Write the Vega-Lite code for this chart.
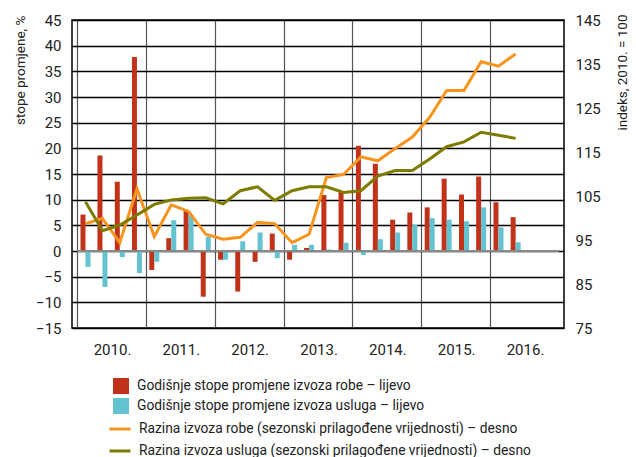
{
  "$schema": "https://vega.github.io/schema/vega-lite/v6.json",
  "autosize": "none",
  "width": 492,
  "height": 308,
  "padding": {"left": 72, "top": 20, "right": 72, "bottom": 129},
  "background": "white",
  "config": {
    "font": "Roboto",
    "view": {"stroke": "#000", "strokeWidth": 1.5},
    "axis": {"labelFont": "Roboto", "titleFont": "Roboto", "labelColor": "#222", "titleColor": "#222", "labelFontSize": 15, "titleFontSize": 13.5, "titleFontWeight": "normal", "ticks": false, "domain": false, "labelOverlap": false},
    "legend": {"labelFont": "Roboto", "labelFontSize": 13.8, "labelColor": "#222", "labelLimit": 0}
  },
  "data": {"values": [
    {"date": "2010-02-15", "gr": 7.1, "sr": -3.1, "gl": 98.7, "sl": 103.7},
    {"date": "2010-05-16", "gr": 18.6, "sr": -7.0, "gl": 99.9, "sl": 97.1},
    {"date": "2010-08-16", "gr": 13.5, "sr": -1.2, "gl": 94.4, "sl": 98.4},
    {"date": "2010-11-15", "gr": 37.8, "sr": -4.3, "gl": 106.6, "sl": 100.7},
    {"date": "2011-02-15", "gr": -3.7, "sr": -2.1, "gl": 95.8, "sl": 103.1},
    {"date": "2011-05-16", "gr": 2.5, "sr": 6.0, "gl": 103.0, "sl": 104.1},
    {"date": "2011-08-16", "gr": 8.0, "sr": 7.0, "gl": 101.5, "sl": 104.5},
    {"date": "2011-11-15", "gr": -8.9, "sr": 2.8, "gl": 96.3, "sl": 104.6},
    {"date": "2012-02-15", "gr": -1.7, "sr": -1.7, "gl": 95.2, "sl": 103.2},
    {"date": "2012-05-16", "gr": -7.9, "sr": 1.9, "gl": 95.6, "sl": 106.2},
    {"date": "2012-08-16", "gr": -2.1, "sr": 3.6, "gl": 99.0, "sl": 107.1},
    {"date": "2012-11-15", "gr": 3.4, "sr": -1.4, "gl": 98.7, "sl": 104.0},
    {"date": "2013-02-15", "gr": -1.7, "sr": 1.2, "gl": 94.4, "sl": 106.2},
    {"date": "2013-05-16", "gr": 0.6, "sr": 1.2, "gl": 96.3, "sl": 107.1},
    {"date": "2013-08-16", "gr": 10.9, "sr": 0.3, "gl": 109.2, "sl": 107.1},
    {"date": "2013-11-15", "gr": 11.5, "sr": 1.6, "gl": 109.9, "sl": 105.8},
    {"date": "2014-02-15", "gr": 20.5, "sr": -0.8, "gl": 113.9, "sl": 106.2},
    {"date": "2014-05-16", "gr": 17.0, "sr": 2.3, "gl": 113.0, "sl": 109.5},
    {"date": "2014-08-16", "gr": 6.1, "sr": 3.6, "gl": 115.8, "sl": 110.8},
    {"date": "2014-11-15", "gr": 7.5, "sr": 5.1, "gl": 118.4, "sl": 110.8},
    {"date": "2015-02-15", "gr": 8.5, "sr": 6.4, "gl": 122.9, "sl": 113.4},
    {"date": "2015-05-16", "gr": 14.1, "sr": 6.1, "gl": 129.0, "sl": 116.2},
    {"date": "2015-08-16", "gr": 11.0, "sr": 5.8, "gl": 129.0, "sl": 117.3},
    {"date": "2015-11-15", "gr": 14.5, "sr": 8.5, "gl": 135.5, "sl": 119.5},
    {"date": "2016-02-15", "gr": 9.5, "sr": 4.6, "gl": 134.5, "sl": 118.8},
    {"date": "2016-05-16", "gr": 6.6, "sr": 1.7, "gl": 137.3, "sl": 118.1}
  ]},
  "encoding": {
    "x": {
      "field": "date", "type": "temporal",
      "scale": {"type": "utc", "domain": [{"year": 2010, "month": 1, "date": 1, "utc": true}, {"year": 2017, "month": 1, "date": 1, "utc": true}]},
      "axis": {
        "title": null, "format": "%Y.", "grid": true, "gridColor": "#555", "gridWidth": 1.2,
        "values": [
          {"year": 2010, "month": 1, "date": 1, "utc": true},
          {"year": 2011, "month": 1, "date": 1, "utc": true},
          {"year": 2012, "month": 1, "date": 1, "utc": true},
          {"year": 2013, "month": 1, "date": 1, "utc": true},
          {"year": 2014, "month": 1, "date": 1, "utc": true},
          {"year": 2015, "month": 1, "date": 1, "utc": true},
          {"year": 2016, "month": 1, "date": 1, "utc": true}
        ],
        "labelOffset": 35, "labelAlign": "center", "labelPadding": 14, "labelFlush": false
      }
    }
  },
  "layer": [
    {
      "encoding": {
        "y": {"type": "quantitative", "scale": {"domain": [-15, 45], "nice": false},
          "axis": {"title": "stope promjene, %", "values": [-15, -10, -5, 0, 5, 10, 15, 20, 25, 30, 35, 40, 45], "grid": true, "gridColor": "#000", "gridWidth": 1.5, "labelPadding": 11, "titleAngle": 270, "titleAlign": "right", "titleBaseline": "middle", "titleX": -52, "titleY": -5}}
      },
      "layer": [
        {
          "data": {"values": [{"g": -10}, {"g": -5}, {"g": 5}, {"g": 10}, {"g": 15}, {"g": 20}, {"g": 25}, {"g": 30}, {"g": 35}, {"g": 40}]},
          "mark": {"type": "rule", "color": "#000", "strokeWidth": 1.5},
          "encoding": {
            "y": {"field": "g", "type": "quantitative"},
            "x": {"datum": {"year": 2010, "month": 1, "date": 1, "utc": true}, "type": "temporal"},
            "x2": {"datum": {"year": 2017, "month": 1, "date": 1, "utc": true}}
          }
        },
        {
          "mark": {"type": "bar", "width": 5, "xOffset": -2.5},
          "encoding": {
            "y": {"field": "gr"},
            "fill": {"datum": "Godišnje stope promjene izvoza robe – lijevo", "type": "nominal",
              "scale": {"domain": ["Godišnje stope promjene izvoza robe – lijevo", "Godišnje stope promjene izvoza usluga – lijevo"], "range": ["#c1321b", "#63c3d1"]},
              "legend": {"title": null, "orient": "none", "legendX": 41, "legendY": 358, "symbolType": "square", "symbolSize": 256, "symbolStrokeWidth": 0, "labelOffset": 8, "rowPadding": 4}}
          }
        },
        {
          "mark": {"type": "bar", "width": 5, "xOffset": 2.5},
          "encoding": {
            "y": {"field": "sr"},
            "fill": {"datum": "Godišnje stope promjene izvoza usluga – lijevo", "type": "nominal"}
          }
        },
        {
          "mark": {"type": "rule", "color": "#888", "strokeWidth": 1.6},
          "encoding": {
            "y": {"datum": 0},
            "x": {"datum": {"year": 2010, "month": 1, "date": 1, "utc": true}, "type": "temporal"},
            "x2": {"datum": {"year": 2017, "month": 1, "date": 1, "utc": true}}
          }
        }
      ]
    },
    {
      "encoding": {
        "y": {"type": "quantitative", "scale": {"domain": [75, 145], "nice": false},
          "axis": {"orient": "right", "title": "indeks, 2010. = 100", "values": [75, 85, 95, 105, 115, 125, 135, 145], "grid": false, "labelPadding": 11, "titleAngle": 270, "titleAlign": "right", "titleBaseline": "middle", "titleX": 58, "titleY": -6}}
      },
      "layer": [
        {
          "mark": {"type": "line", "strokeWidth": 3},
          "encoding": {
            "y": {"field": "gl"},
            "stroke": {"datum": "Razina izvoza robe (sezonski prilagođene vrijednosti) – desno", "type": "nominal",
              "scale": {"domain": ["Razina izvoza robe (sezonski prilagođene vrijednosti) – desno", "Razina izvoza usluga (sezonski prilagođene vrijednosti) – desno"], "range": ["#f7941d", "#7f7a00"]},
              "legend": {"title": null, "orient": "none", "legendX": 36, "legendY": 397, "symbolType": "stroke", "symbolSize": 441, "symbolStrokeWidth": 3, "labelOffset": 7, "rowPadding": 3}}
          }
        },
        {
          "mark": {"type": "line", "strokeWidth": 3},
          "encoding": {
            "y": {"field": "sl"},
            "stroke": {"datum": "Razina izvoza usluga (sezonski prilagođene vrijednosti) – desno", "type": "nominal"}
          }
        }
      ]
    }
  ],
  "resolve": {"scale": {"y": "independent"}}
}
